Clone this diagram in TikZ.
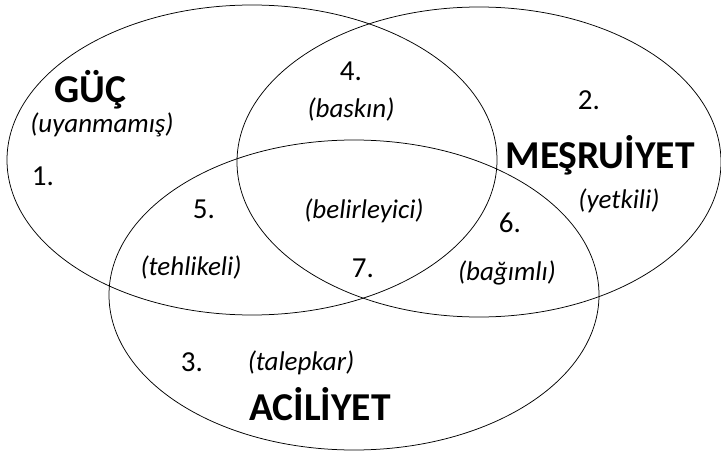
\documentclass[tikz,border=0pt]{standalone}
\usepackage{fontspec}
\setmainfont{Carlito}
\usetikzlibrary{shapes.geometric}
\tikzset{
  circ/.style={draw=black, line width=0.75pt, ellipse, inner sep=0pt,
               minimum width=490pt, minimum height=310pt},
  title/.style={font=\fontsize{39.5}{42}\selectfont\bfseries, inner sep=0pt, anchor=base},
  num/.style={font=\fontsize{29}{31}\selectfont, inner sep=0pt, anchor=base},
  role/.style={font=\fontsize{27}{30}\selectfont\itshape, inner sep=0pt, anchor=base},
}
\begin{document}
\begin{tikzpicture}[x=1pt, y=-1pt]
  \useasboundingbox[fill=white] (0,0) rectangle (721,455);

  % the three attributes
  \node[circ] (power)   at (252,160) {};
  \node[circ, minimum width=484pt] (legit) at (479,162) {};
  \node[circ, minimum width=490pt] (urgent) at (354,295) {};

  % power
  \node[title] (tpower) at (90,102) {GÜÇ};
  \node[role]  (rpower) at (102,132) {(uyanmamış)};
  \node[num]   (n1)     at (43,185) {1.};

  % legitimacy
  \node[num]   (n2)     at (589,109) {2.};
  \node[title] (tlegit) at (600,168) {MEŞRUİYET};
  \node[role]  (rlegit) at (619,208) {(yetkili)};

  % urgency
  \node[num]   (n3)      at (192,371) {3.};
  \node[role]  (rurgent) at (301,370) {(talepkar)};
  \node[title] (turgent) at (320,420) {ACİLİYET};

  % overlaps
  \node[num]  (n4) at (351,80) {4.};
  \node[role] (r4) at (351,117) {(baskın)};
  \node[num]  (n5) at (204,218) {5.};
  \node[role] (r5) at (191,275) {(tehlikeli)};
  \node[num]  (n6) at (510,232) {6.};
  \node[role] (r6) at (507,280) {(bağımlı)};
  \node[role] (r7) at (364,218) {(belirleyici)};
  \node[num]  (n7) at (363,277) {7.};
\end{tikzpicture}
\end{document}
